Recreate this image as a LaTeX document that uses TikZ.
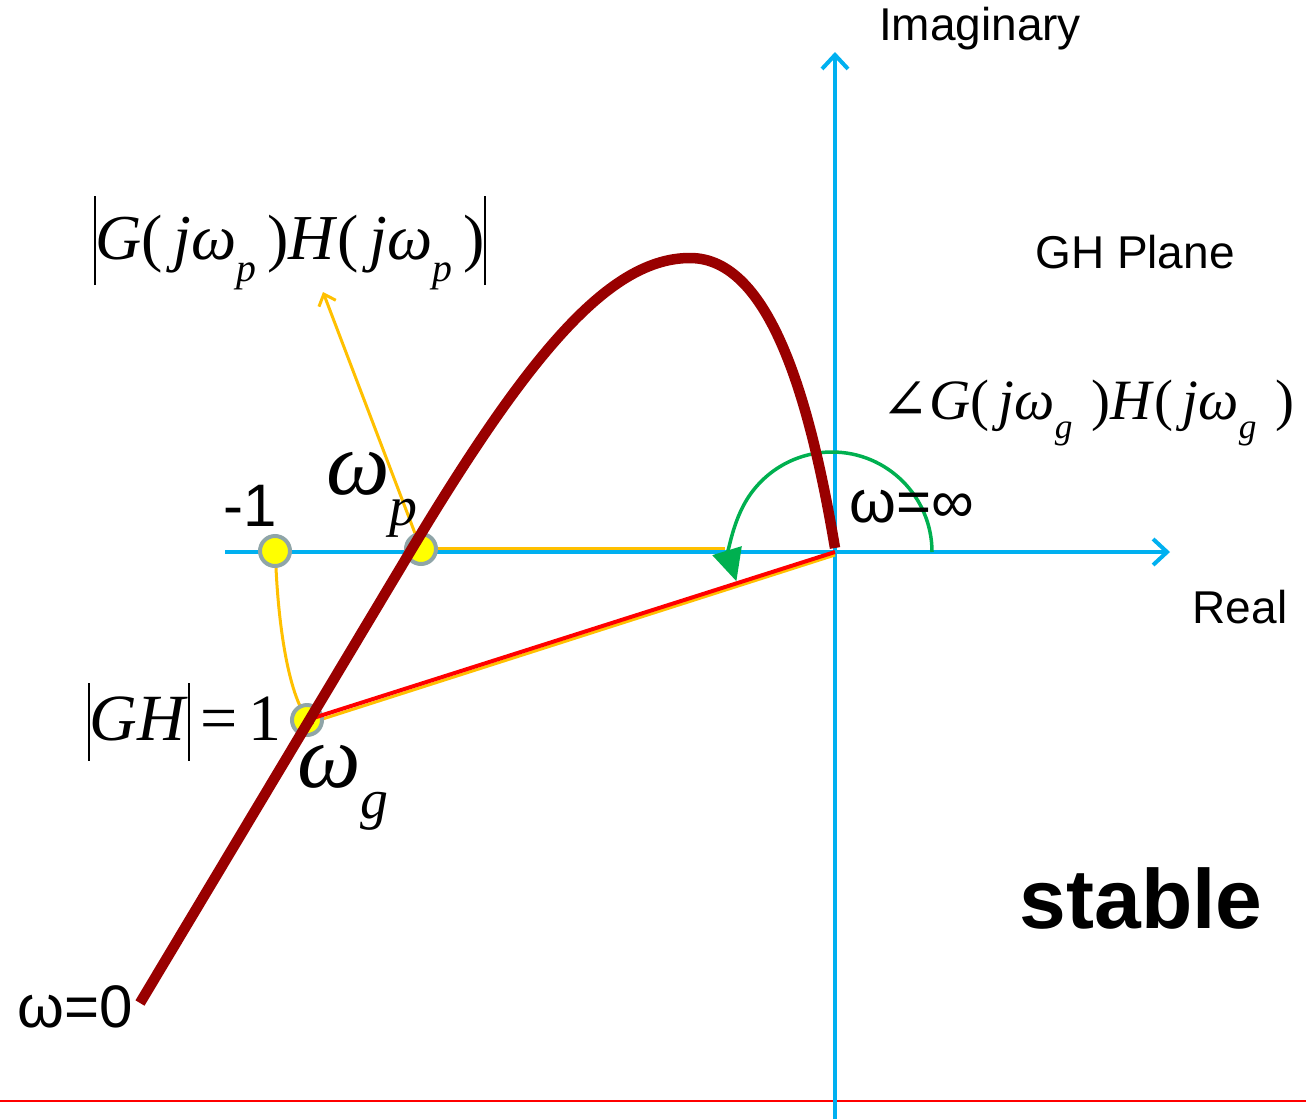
\documentclass[tikz,border=0pt]{standalone}
\usepackage{fontspec}
\usepackage{graphicx}
\setmainfont{Liberation Serif}
\setsansfont{Liberation Sans}
\newfontfamily\symfnt{DejaVu Serif}
\usetikzlibrary{arrows.meta,calc}
\definecolor{axisblue}{HTML}{00B0F0}
\definecolor{curvered}{HTML}{990000}
\definecolor{orng}{HTML}{FFC000}
\definecolor{grn}{HTML}{00B050}
\definecolor{ptgray}{HTML}{8FA5A8}
\definecolor{ptyellow}{HTML}{FFFF00}
\newcommand\myit[1]{\textit{#1}}
\newcommand\lsub[1]{\raisebox{-0.35em}{\scalebox{0.62}{\textit{#1}}}}
\newcommand\mybar[2]{\rule[-#1]{1.6pt}{#2}}
\begin{document}
\begin{tikzpicture}[x=1pt,y=-1pt,
  axis/.style={axisblue,line width=4pt,-{Straight Barb[length=14pt,width=26pt,line width=4pt]}},
  sanslbl/.style={font=\sffamily\fontsize{46}{50}\selectfont,inner sep=0pt},
  bigsans/.style={font=\sffamily\fontsize{60}{64}\selectfont,inner sep=0pt},
  seriflbl/.style={inner sep=0pt},
  pt/.style={circle,draw=ptgray,fill=ptyellow,line width=4pt,minimum size=30pt,inner sep=0pt},
  curve/.style={curvered,line width=10.5pt},
  orangeline/.style={orng,line width=3pt}]
\useasboundingbox (0,0) rectangle (1306,1119);
% reference line
\draw[red,line width=1.2pt] (0,1101) -- (1306,1101);
% axes
\coordinate (O) at (835,552);
\coordinate (xs) at (225,552);
\coordinate (xe) at (1170,552);
\coordinate (ys) at (835,1119);
\coordinate (ye) at (835,52);
% orange constructions
\coordinate (wpc) at (421,549);
\coordinate (m1c) at (275,551);
\coordinate (wgc) at (307,720);
\coordinate (arrtop) at (323,292);
\coordinate (hend) at (725,548);
\draw[orangeline] (421,548) -- (hend);
\draw[axis] (xs) -- (xe);
\draw[axis] (ys) -- (ye);
\draw[orangeline,-{Straight Barb[length=10pt,width=18pt,line width=3pt]}] (wpc) -- (arrtop);
\draw[orangeline] (276,568) .. controls (279,630) and (288,680) .. (300,706);
\draw[orangeline] (310,723) -- (835,555);
% points
\node[pt] (m1) at (m1c) {};
\node[pt] (wp) at (wpc) {};
\node[pt] (wg) at (wgc) {};
% red vector
\draw[red,line width=4pt,-{To[length=6pt,width=12pt]}] (O) -- (wg.center);
% green angle arc
\draw[grn,line width=3.5pt,-{Triangle[length=32pt,width=30pt]}] ($(O)+(97,0)$) arc[start angle=0,end angle=-197,radius=100];
% Nyquist curve
\draw[curve] (140,1003) -- (410,552) .. controls (530,352) and (610,258) .. (690,258)
   .. controls (770,258) and (810,400) .. (835,548);
% labels
\node[sanslbl] (imlbl) at (980,29) {Imaginary};
\node[sanslbl] (relbl) at (1240,607) {Real};
\node[sanslbl] (ghlbl) at (1135,252) {GH Plane};
\node[font=\sffamily\bfseries\fontsize{84}{90}\selectfont,inner sep=0pt] (stable) at (1141,898) {stable};
\node[bigsans] (m1lbl) at (250,506) {-1};
\node[bigsans] (winf) at (912,507) {ω=∞};
\node[bigsans] (wzero) at (75,1007) {ω=0};
\node[seriflbl,font=\fontsize{64}{70}\selectfont] (maglbl) at (290,243)
  {\mybar{0.4em}{1.4em}\myit{G}(\,\myit{j}\myit{ω}\lsub{p}\,)\myit{H}(\,\myit{j}\myit{ω}\lsub{p}\,)\mybar{0.4em}{1.4em}};
\node[seriflbl,font=\fontsize{57}{62}\selectfont] (anglbl) at (1088,413)
  {{\symfnt ∠}\myit{G}(\,\myit{j}\myit{ω}\lsub{g}\,\,)\myit{H}(\,\myit{j}\myit{ω}\lsub{g}\,\,)};
\node[seriflbl,font=\fontsize{66}{70}\selectfont] (ghlbl1) at (185,722)
  {\mybar{0.3em}{1.17em}\myit{GH}\mybar{0.3em}{1.17em}\,=\,1};
\node[seriflbl,font=\fontsize{90}{90}\selectfont] (wplbl) at (372,495) {\myit{ω}\lsub{p}};
\node[seriflbl,font=\fontsize{90}{90}\selectfont] (wglbl) at (343,788) {\myit{ω}\lsub{g}};
\end{tikzpicture}
\end{document}
